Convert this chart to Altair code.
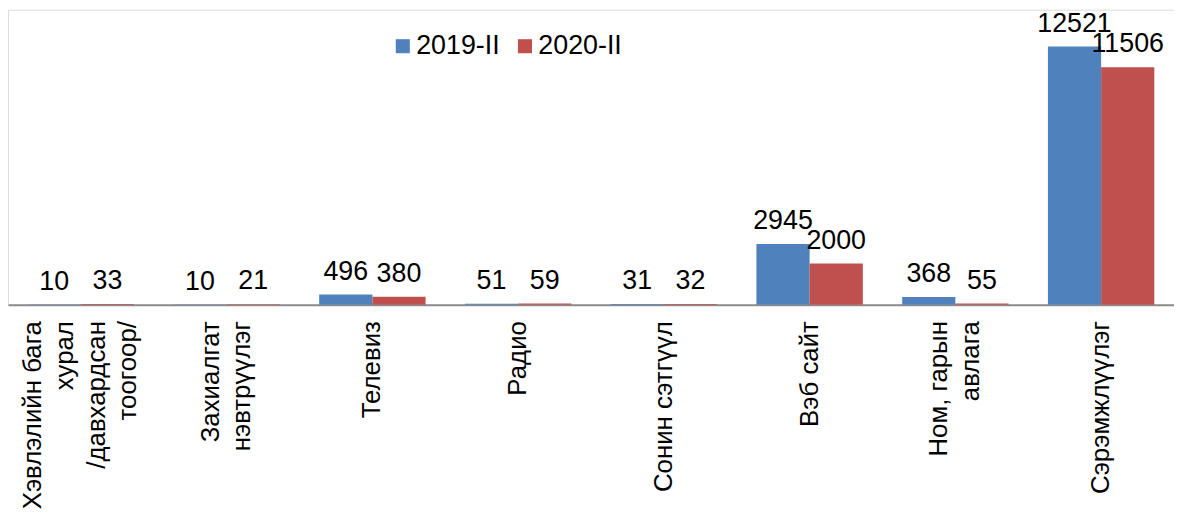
import altair as alt
import pandas as pd

categories = [
    "Хэвлэлийн бага\nхурал\n/давхардсан\nтоогоор/",
    "Захиалгат\nнэвтрүүлэг",
    "Телевиз",
    "Радио",
    "Сонин сэтгүүл",
    "Вэб сайт",
    "Ном, гарын\nавлага",
    "Сэрэмжлүүлэг",
]
series = ["2019-II", "2020-II"]
values_2019 = [10, 10, 496, 51, 31, 2945, 368, 12521]
values_2020 = [33, 21, 380, 59, 32, 2000, 55, 11506]
colors = ["#4F81BD", "#C0504D"]

rows = []
for c, a, b in zip(categories, values_2019, values_2020):
    rows.append({"cat": c, "series": series[0], "value": a})
    rows.append({"cat": c, "series": series[1], "value": b})
df = pd.DataFrame(rows)

FONT = "Liberation Sans"
LINE_H = 32

x = alt.X(
    "cat:N",
    sort=categories,
    scale=alt.Scale(paddingInner=0.27, paddingOuter=0.135),
    axis=alt.Axis(
        title=None,
        labelAngle=270,
        labelExpr="split(datum.label, '\\n')",
        labelFontSize=26,
        labelFont=FONT,
        labelColor="#000000",
        labelLineHeight=LINE_H,
        labelLimit=400,
        labelPadding=16,
        labelOffset={
            "condition": [
                {"test": "length(split(datum.value, '\\n')) == 4", "value": -1.5 * LINE_H},
                {"test": "length(split(datum.value, '\\n')) == 2", "value": -0.5 * LINE_H},
            ],
            "value": 0,
        },
        ticks=False,
        domainColor="#8C8C8C",
        domainWidth=2,
        grid=False,
    ),
)
xo = alt.XOffset("series:N", sort=series, scale=alt.Scale(paddingInner=0, paddingOuter=0))
y = alt.Y("value:Q", scale=alt.Scale(domain=[0, 14300], nice=False, zero=True), axis=None)

bars = alt.Chart(df).mark_bar().encode(
    x=x,
    xOffset=xo,
    y=y,
    color=alt.Color(
        "series:N",
        sort=series,
        scale=alt.Scale(domain=series, range=colors),
        legend=alt.Legend(
            title=None,
            orient="none",
            direction="horizontal",
            legendX=384,
            legendY=23,
            symbolType="square",
            symbolSize=200,
            symbolStrokeWidth=0,
            labelFontSize=27,
            labelFont=FONT,
            labelColor="#000000",
            labelOffset=0,
            columnPadding=11,
        ),
    ),
)

labels = alt.Chart(df).mark_text(
    dy=-15, baseline="alphabetic", fontSize=27, font=FONT, color="#000000"
).encode(
    x=x,
    xOffset=xo,
    y=y,
    text=alt.Text("value:Q", format="d"),
)

chart = (
    alt.layer(bars, labels)
    .properties(
        width=1174,
        height=297,
        autosize=alt.AutoSizeParams(type="none"),
        padding={"left": 0, "top": 0, "right": 0, "bottom": 205},
    )
    .configure_view(stroke=None)
    .configure(font=FONT)
)

chart.save("out.html", embed_options={"renderer": "svg", "actions": False})
